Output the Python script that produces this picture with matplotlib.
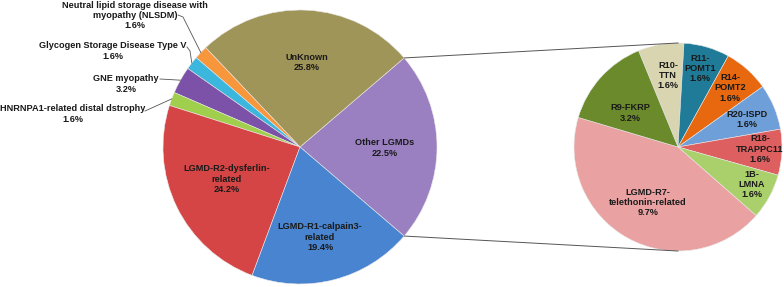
import matplotlib
matplotlib.use("Agg")
import matplotlib.pyplot as plt
import numpy as np

plt.rcParams['font.family'] = ['Liberation Sans', 'DejaVu Sans']

# ---------------- data ----------------
main_labels = ["Other LGMDs", "UnKnown",
               "Neutral lipid storage disease with\nmyopathy (NLSDM)",
               "Glycogen Storage Disease Type V", "GNE myopathy",
               "HNRNPA1-related distal dstrophy",
               "LGMD-R2-dysferlin-\nrelated", "LGMD-R1-calpain3-\nrelated"]
main_pct = [22.5, 25.8, 1.6, 1.6, 3.2, 1.6, 24.2, 19.4]
main_colors = ["#9a80c0", "#a09558", "#f7963a", "#3bb6dc", "#7b52a8",
               "#9fcf4c", "#d64545", "#4884d0"]

sub_labels = ["R10-\nTTN", "R11-\nPOMT1", "R14-\nPOMT2", "R20-ISPD",
              "R18-\nTRAPPC11", "1B-\nLMNA", "LGMD-R7-\ntelethonin-related",
              "R9-FKRP"]
sub_pct = [1.6, 1.6, 1.6, 1.6, 1.6, 1.6, 9.7, 3.2]
sub_colors = ["#d9d5b0", "#1f7b98", "#e8680f", "#6f9fd9", "#dd5f5f",
              "#a9d06a", "#e9a1a1", "#6a8a2b"]

W, H = 784, 287
fig = plt.figure(figsize=(W / 100, H / 100), dpi=100)
ax = fig.add_axes([0, 0, 1, 1])

def Y(yt):
    return H - yt

FS = 6.6
tkw = dict(fontsize=FS, fontweight='bold', color='#1a1a1a', ha='center',
           va='center', linespacing=1.2)

# ---------------- main pie ----------------
c1 = (300, Y(147))
r1 = 137
start1 = -main_pct[0] / sum(main_pct) * 360 / 2
w1, _ = ax.pie(main_pct, colors=main_colors, startangle=start1,
               counterclock=True, center=c1, radius=r1,
               wedgeprops=dict(edgecolor='#e8e8e8', linewidth=0.4))

# inner labels (positions)
inner_pos = {0: (385, 148), 1: (307, 62.5), 6: (227, 179), 7: (320, 237)}
for i, (x, yt) in inner_pos.items():
    ax.text(x, Y(yt), f"{main_labels[i]}\n{main_pct[i]}%", **tkw)

# outer labels with leader lines
outer_pos = {2: (135, 15.5), 3: (113, 51), 4: (126, 84), 5: (73, 114)}
leader_start = {2: [(178, 15), (183, 17)], 3: [(187, 47), (190, 51)],
                4: [(160, 79)], 5: [(145, 111)]}
for i, (x, yt) in outer_pos.items():
    ax.text(x, Y(yt), f"{main_labels[i]}\n{main_pct[i]}%", **tkw)
    w = w1[i]
    ang = np.deg2rad((w.theta1 + w.theta2) / 2)
    px = c1[0] + r1 * np.cos(ang)
    py = c1[1] + r1 * np.sin(ang)
    pts = [(sx, Y(sy)) for sx, sy in leader_start[i]] + [(px, py)]
    xs, ys = zip(*pts)
    ax.plot(xs, ys, color='#555555', lw=0.6)

# ---------------- sub pie ----------------
c2 = (678, Y(147))
r2 = 104
w2, _ = ax.pie(sub_pct, colors=sub_colors, startangle=112.3,
               counterclock=False, center=c2, radius=r2,
               wedgeprops=dict(edgecolor='#e8e8e8', linewidth=0.4))

sub_pos = [(668, 75.5), (700, 68.5), (730, 88), (747, 119.5),
           (760, 149), (752, 184.5), (648, 202.5), (630, 113)]
for lab, p, (x, yt) in zip(sub_labels, sub_pct, sub_pos):
    ax.text(x, Y(yt), f"{lab}\n{p}%", **tkw)

# connector lines
wo = w1[0]
for th, sgn in [(wo.theta2, 1), (wo.theta1, -1)]:
    a = np.deg2rad(th)
    x0 = c1[0] + r1 * np.cos(a)
    y0 = c1[1] + r1 * np.sin(a)
    ax.plot([x0, c2[0]], [y0, c2[1] + sgn * r2], color='#555555', lw=0.7)

ax.set_xlim(0, W)
ax.set_ylim(0, H)
ax.set_aspect('equal')
ax.axis('off')
fig.savefig("out.png", dpi=100, facecolor='white')
